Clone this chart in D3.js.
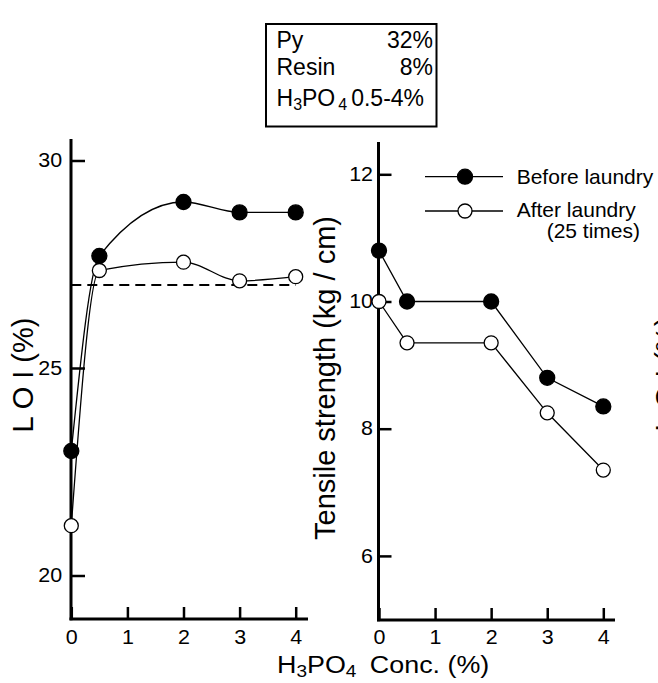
<!DOCTYPE html>
<html>
<head>
<meta charset="utf-8">
<script src="https://cdn.jsdelivr.net/npm/d3@7"></script>
<style>
  html, body { margin: 0; padding: 0; background: #fff; }
  svg { display: block; font-family: "Liberation Sans", Arial, Helvetica, sans-serif; }
  .axis path.domain { display: none; }
  .axis line { stroke: #000; stroke-width: 2.5; }
  .axis text { fill: #000; font-size: 19.5px; font-family: "Liberation Sans", Arial, sans-serif; }
</style>
</head>
<body>
<svg id="chart" width="658" height="683"></svg>
<script>
// H3PO4 concentration (%) for each treated sample
const concentrations = [0, 0.5, 2, 3, 4];
// Limiting oxygen index (%)
const loiBefore = [23.0, 27.7, 29.0, 28.75, 28.75];
const loiAfter  = [21.2, 27.35, 27.55, 27.1, 27.2];
const loiThreshold = 27;
// Tensile strength (kg / cm)
const tensileBefore = [10.8, 10.0, 10.0, 8.8, 8.35];
const tensileAfter  = [10.0, 9.35, 9.35, 8.25, 7.35];
// Tick values
const concTicks = [0, 1, 2, 3, 4];
const loiTicks = [20, 25, 30];
const tensileTicks = [6, 8, 10, 12];
// Legend and recipe box
const seriesNames = ["Before laundry", "After laundry", "(25 times)"];
const recipeNames = ["Py", "Resin"];
const recipeValues = ["32%", "8%"];

const svg = d3.select("#chart");
const fmt = d3.format("d");
// tick labels are set slightly wide
const widen = sel => sel.selectAll("text").attr("transform", "scale(1.1,1)");

// ---------- left panel: LOI ----------
const xL = d3.scaleLinear().domain([0, 4]).range([71.3, 295.7]);
const yL = d3.scaleLinear().domain([20, 30]).range([575.5, 160.5]);
const baseL = 619;

// ---------- right panel: tensile strength ----------
const xR = d3.scaleLinear().domain([0, 4]).range([379, 603.3]);
const yR = d3.scaleLinear().domain([6, 12]).range([555.9, 174.3]);
const baseR = 620;

function frame(x0, y0, yTop, xEnd) {
  svg.append("line").attr("x1", x0).attr("x2", x0).attr("y1", yTop).attr("y2", y0 + 1.25)
    .attr("stroke", "#000").attr("stroke-width", 3);
  svg.append("line").attr("x1", x0 - 1.5).attr("x2", xEnd).attr("y1", y0).attr("y2", y0)
    .attr("stroke", "#000").attr("stroke-width", 3);
}
frame(71, baseL, 139, 308);
frame(378.5, baseR, 142, 615);

// y axes with inward ticks
svg.append("g").attr("class", "axis").attr("transform", "translate(71,0)")
  .call(d3.axisLeft(yL).tickValues(loiTicks).tickFormat(fmt).tickSizeInner(-14).tickSizeOuter(0).tickPadding(8))
  .call(widen);
svg.append("g").attr("class", "axis").attr("transform", "translate(378.5,0)")
  .call(d3.axisLeft(yR).tickValues(tensileTicks).tickFormat(fmt).tickSizeInner(-13).tickSizeOuter(0).tickPadding(5))
  .call(widen);

// x axes with upward ticks
svg.append("g").attr("class", "axis").attr("transform", `translate(0,${baseL})`)
  .call(d3.axisBottom(xL).tickValues(concTicks).tickFormat(fmt).tickSizeInner(-12).tickSizeOuter(0).tickPadding(11))
  .call(widen);
svg.append("g").attr("class", "axis").attr("transform", `translate(0,${baseR})`)
  .call(d3.axisBottom(xR).tickValues(concTicks).tickFormat(fmt).tickSizeInner(-12).tickSizeOuter(0).tickPadding(10))
  .call(widen);

// LOI threshold
svg.append("line")
  .attr("x1", xL(0)).attr("x2", xL(4))
  .attr("y1", yL(loiThreshold)).attr("y2", yL(loiThreshold))
  .attr("stroke", "#000").attr("stroke-width", 2).attr("stroke-dasharray", "10,6");

// series lines
const lineL = d3.line().x((d, i) => xL(concentrations[i])).y(d => yL(d)).curve(d3.curveMonotoneX);
const lineR = d3.line().x((d, i) => xR(concentrations[i])).y(d => yR(d));

[[loiBefore, lineL], [loiAfter, lineL], [tensileBefore, lineR], [tensileAfter, lineR]].forEach(([vals, gen]) => {
  svg.append("path").attr("d", gen(vals)).attr("fill", "none").attr("stroke", "#000").attr("stroke-width", 1.3);
});

function markers(vals, xs, ys, filled) {
  svg.append("g").selectAll("circle").data(vals).join("circle")
    .attr("cx", (d, i) => xs(concentrations[i]))
    .attr("cy", d => ys(d))
    .attr("r", filled ? 7.5 : 7)
    .attr("fill", filled ? "#000" : "#fff")
    .attr("stroke", "#000").attr("stroke-width", 1.3);
}
markers(loiBefore, xL, yL, true);
markers(loiAfter, xL, yL, false);
markers(tensileBefore, xR, yR, true);
markers(tensileAfter, xR, yR, false);

// axis titles
const titleFont = "29px";
svg.append("text").attr("transform", "translate(33,375) rotate(-90)")
  .attr("text-anchor", "middle").attr("font-size", titleFont).text("L O I (%)");
svg.append("text").attr("transform", "translate(676,374) rotate(-90)")
  .attr("text-anchor", "middle").attr("font-size", titleFont).text("L O I (%)");
svg.append("text").attr("transform", "translate(335,378) rotate(-90)")
  .attr("text-anchor", "middle").attr("font-size", titleFont).text("Tensile strength (kg / cm)");

const xt = svg.append("text").attr("transform", "translate(277,673) scale(1.12,1)").attr("font-size", "24px");
xt.append("tspan").text("H");
xt.append("tspan").attr("font-size", "17px").attr("dy", 4).text("3");
xt.append("tspan").attr("dy", -4).text("PO");
xt.append("tspan").attr("font-size", "17px").attr("dy", 4).text("4");
xt.append("tspan").attr("dy", -4).attr("dx", 12).text("Conc. (%)");

// legend
const legendRows = [{ y: 176.7, filled: true }, { y: 211, filled: false }];
legendRows.forEach((r, i) => {
  svg.append("line").attr("x1", 425).attr("x2", 503).attr("y1", r.y).attr("y2", r.y)
    .attr("stroke", "#000").attr("stroke-width", 1.3);
  svg.append("circle").attr("cx", 465).attr("cy", r.y).attr("r", r.filled ? 7.5 : 7)
    .attr("fill", r.filled ? "#000" : "#fff").attr("stroke", "#000").attr("stroke-width", 1.3);
});
svg.append("text").attr("x", 516.7).attr("y", 183.5).attr("font-size", "21px").text(seriesNames[0]);
svg.append("text").attr("x", 516.7).attr("y", 216.5).attr("font-size", "21px").text(seriesNames[1]);
svg.append("text").attr("x", 640).attr("y", 237.5).attr("font-size", "21px").attr("text-anchor", "end").text(seriesNames[2]);

// recipe box
svg.append("rect").attr("x", 266).attr("y", 24).attr("width", 170.5).attr("height", 102.5)
  .attr("fill", "#fff").attr("stroke", "#000").attr("stroke-width", 2);
const rowBase = [48, 75];
recipeNames.forEach((n, i) => {
  svg.append("text").attr("x", 276.5).attr("y", rowBase[i]).attr("font-size", "23px").text(n);
  svg.append("text").attr("x", 433).attr("y", rowBase[i]).attr("font-size", "23px")
    .attr("text-anchor", "end").text(recipeValues[i]);
});
const r3 = svg.append("text").attr("x", 276.5).attr("y", 106).attr("font-size", "23px");
r3.append("tspan").text("H");
r3.append("tspan").attr("font-size", "16px").attr("dy", 4).text("3");
r3.append("tspan").attr("dy", -4).text("PO");
r3.append("tspan").attr("font-size", "16px").attr("dy", 4).attr("dx", 3).text("4");
r3.append("tspan").attr("dy", -4).attr("dx", 4).text("0.5-4%");
</script>
</body>
</html>
